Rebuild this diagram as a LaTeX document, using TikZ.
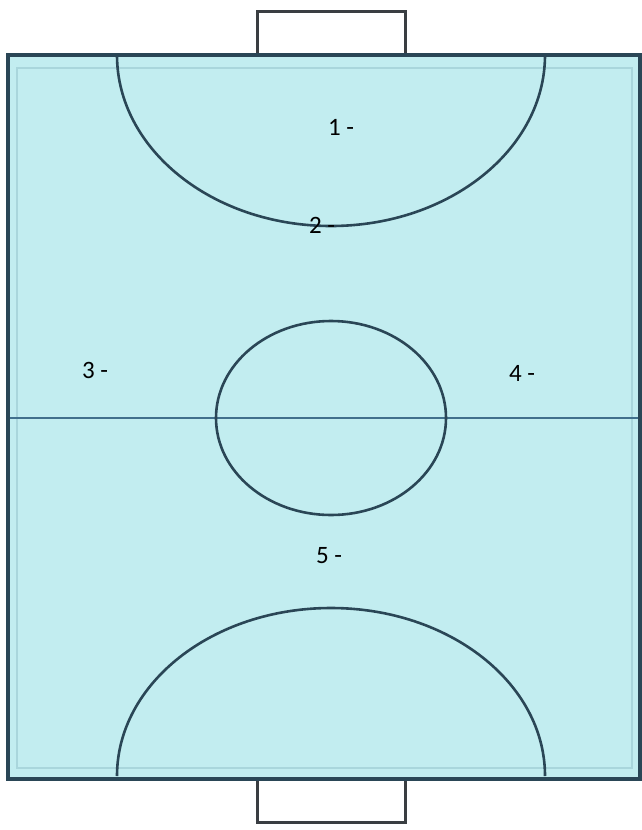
\documentclass[tikz,border=0pt]{standalone}
\usepackage{fontspec}
\setmainfont{Carlito}
\definecolor{courtfill}{HTML}{C2EDF0}
\definecolor{courtline}{HTML}{2A4656}
\definecolor{halfline}{HTML}{41708C}
\definecolor{innerline}{HTML}{A9D6DC}
\definecolor{goalline}{HTML}{3A3E42}

\begin{document}
\begin{tikzpicture}[
  x=1pt, y=-1pt,
  markline/.style={courtline, line width=2.6pt},
  goalbox/.style={draw=goalline, line width=3pt, fill=white},
  spotlabel/.style={font=\fontsize{25}{27}\selectfont, text=black, inner sep=0pt},
]

% Background
\useasboundingbox (0,0) rectangle (642,830);
\fill[white] (0,0) rectangle (642,830);

% === Goals ===
\draw[goalbox] (257,55) -- (257,11) -- (405,11) -- (405,55);
\draw[goalbox] (257,779) -- (257,822) -- (405,822) -- (405,779);

% === Court ===
\fill[courtfill] (8,55) rectangle (640,779);
\draw[innerline, line width=1.2pt] (17,68) rectangle (632,768);

% Halfway line
\draw[halfline, line width=2.2pt] (8,418) -- (640,418);

% Centre circle
\draw[markline] (331,418) ellipse [x radius=115, y radius=97];

% Goal areas
\draw[markline] (117,55) arc[start angle=180, end angle=0, x radius=214, y radius=171];
\draw[markline] (117,776) arc[start angle=180, end angle=360, x radius=214, y radius=168];

% Outline on top
\draw[courtline, line width=3.8pt] (8,55) rectangle (640,779);

% === Labels ===
\node[spotlabel] (l1) at (341,127) {1 -};
\node[spotlabel] (l2) at (322,225) {2 -};
\node[spotlabel] (l3) at (95,370) {3 -};
\node[spotlabel] (l4) at (522,373) {4 -};
\node[spotlabel] (l5) at (329,556) {5 -};

\end{tikzpicture}
\end{document}
